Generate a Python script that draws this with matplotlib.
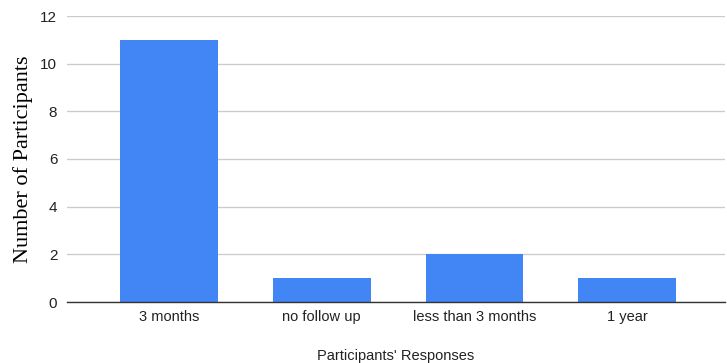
import matplotlib
matplotlib.use("Agg")
import matplotlib.pyplot as plt

categories = ["3 months", "no follow up", "less than 3 months", "1 year"]
values = [11, 1, 2, 1]
yticks = [0, 2, 4, 6, 8, 10, 12]

fig = plt.figure(figsize=(7.27, 3.63), dpi=100)
ax = fig.add_axes([67/727, 1 - 302/363, (725-67)/727, (302-16)/363])

x = list(range(len(categories)))
ax.bar(x, values, width=0.64, color="#4285F4", zorder=3)
ax.set_xlim(-0.667, 3.64)
ax.set_ylim(0, 12)
ax.set_yticks(yticks)
ax.set_yticklabels([str(t) for t in yticks], fontsize=11, family="Liberation Sans", color="#222222")
ax.set_xticks(x)
ax.set_xticklabels(categories, fontsize=10.5, family="Liberation Sans", color="#222222")
ax.tick_params(length=0, pad=6)
ax.tick_params(axis="y", pad=7)
ax.grid(axis="y", color="#cccccc", linewidth=1, zorder=0)
for s in ["top", "right", "left"]:
    ax.spines[s].set_visible(False)
ax.spines["bottom"].set_color("#333333")
ax.spines["bottom"].set_linewidth(1)
ax.spines["bottom"].set_zorder(4)

ax.set_ylabel("Number of Participants", family="Liberation Serif", fontsize=16, labelpad=5)
ax.set_xlabel("Participants' Responses", family="Liberation Sans", fontsize=10.5, labelpad=18, color="#222222")

fig.savefig("out.png", dpi=100)
